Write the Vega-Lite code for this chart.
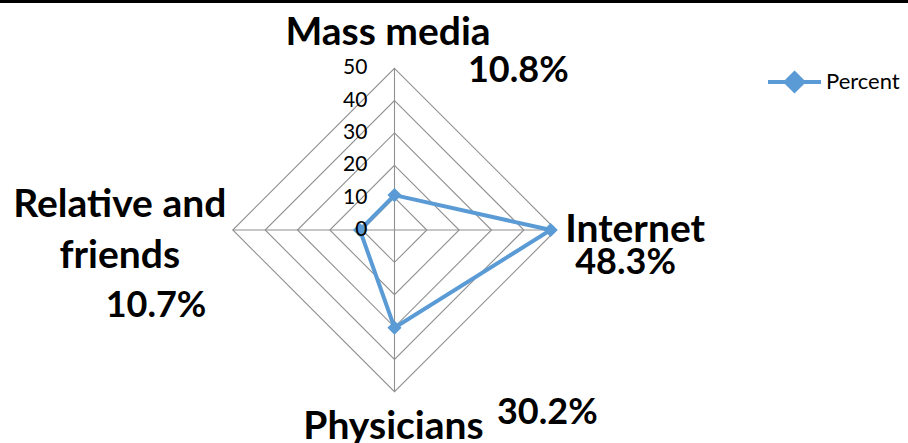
{
  "$schema": "https://vega.github.io/schema/vega-lite/v6.json",
  "width": 908,
  "height": 443,
  "autosize": {"type": "none"},
  "padding": 0,
  "background": "white",
  "config": {
    "view": {"stroke": null},
    "font": "Lato",
    "text": {"font": "Lato", "color": "#000000"}
  },
  "datasets": {
    "sources": [
      {"source": "Mass media", "order": 0, "percent": 10.8, "series": "Percent"},
      {"source": "Internet", "order": 1, "percent": 48.3, "series": "Percent"},
      {"source": "Physicians", "order": 2, "percent": 30.2, "series": "Percent"},
      {"source": "Relative and friends", "order": 3, "percent": 10.7, "series": "Percent"}
    ],
    "rings": [
      {"level": 10, "corners": [0, 1, 2, 3]},
      {"level": 20, "corners": [0, 1, 2, 3]},
      {"level": 30, "corners": [0, 1, 2, 3]},
      {"level": 40, "corners": [0, 1, 2, 3]},
      {"level": 50, "corners": [0, 1, 2, 3]}
    ],
    "ticks": [
      {"tick": 0}, {"tick": 10}, {"tick": 20}, {"tick": 30}, {"tick": 40}, {"tick": 50}
    ]
  },
  "layer": [
    {
      "data": {"name": "rings"},
      "transform": [
        {"flatten": ["corners"], "as": ["corner"]},
        {"calculate": "datum.corner * PI / 2", "as": "angle"},
        {"calculate": "datum.level * sin(datum.angle)", "as": "gx"},
        {"calculate": "datum.level * cos(datum.angle)", "as": "gy"}
      ],
      "mark": {"type": "line", "interpolate": "linear-closed", "color": "#909090", "strokeWidth": 1.1, "clip": false},
      "encoding": {
        "x": {"field": "gx", "type": "quantitative", "axis": null, "scale": {"domain": [-121.98, 158.78], "nice": false, "zero": false}},
        "y": {"field": "gy", "type": "quantitative", "axis": null, "scale": {"domain": [-65.86, 71.12], "nice": false, "zero": false}},
        "detail": {"field": "level", "type": "nominal"},
        "order": {"field": "corner", "type": "quantitative"}
      }
    },
    {
      "data": {"name": "sources"},
      "transform": [
        {"calculate": "datum.order * PI / 2", "as": "angle"},
        {"calculate": "0", "as": "hub"},
        {"calculate": "50 * sin(datum.angle)", "as": "rimX"},
        {"calculate": "50 * cos(datum.angle)", "as": "rimY"},
        {"calculate": "datum.percent * sin(datum.angle)", "as": "valX"},
        {"calculate": "datum.percent * cos(datum.angle)", "as": "valY"},
        {"calculate": "format(datum.percent, '.1f') + '%'", "as": "pctLabel"}
      ],
      "layer": [
        {
          "mark": {"type": "rule", "color": "#909090", "strokeWidth": 1.1, "clip": false},
          "encoding": {
            "x": {"field": "hub", "type": "quantitative", "axis": null, "scale": {"domain": [-121.98, 158.78], "nice": false, "zero": false}},
            "x2": {"field": "rimX"},
            "y": {"field": "hub", "type": "quantitative", "axis": null, "scale": {"domain": [-65.86, 71.12], "nice": false, "zero": false}},
            "y2": {"field": "rimY"}
          }
        },
        {
          "mark": {"type": "line", "interpolate": "linear-closed", "color": "#5B9BD5", "strokeWidth": 4, "clip": false},
          "encoding": {
            "x": {"field": "valX", "type": "quantitative", "axis": null, "scale": {"domain": [-121.98, 158.78], "nice": false, "zero": false}},
            "y": {"field": "valY", "type": "quantitative", "axis": null, "scale": {"domain": [-65.86, 71.12], "nice": false, "zero": false}},
            "order": {"field": "order", "type": "quantitative"}
          }
        },
        {
          "mark": {"type": "point", "shape": "diamond", "filled": true, "size": 200, "opacity": 1, "clip": false},
          "encoding": {
            "x": {"field": "valX", "type": "quantitative", "axis": null, "scale": {"domain": [-121.98, 158.78], "nice": false, "zero": false}},
            "y": {"field": "valY", "type": "quantitative", "axis": null, "scale": {"domain": [-65.86, 71.12], "nice": false, "zero": false}},
            "color": {
              "field": "series",
              "type": "nominal",
              "scale": {"range": ["#5B9BD5"]},
              "legend": {
                "title": null,
                "orient": "none",
                "legendX": 766,
                "legendY": 53.5,
                "padding": 0,
                "labelFont": "Lato",
                "labelFontSize": 22,
                "labelColor": "#000000",
                "labelOffset": 3,
                "symbolType": "M-1,0L1,0M0,-0.33L0.33,0L0,0.33L-0.33,0Z",
                "symbolSize": 2809,
                "symbolStrokeWidth": 4,
                "symbolFillColor": "#5B9BD5",
                "symbolStrokeColor": "#5B9BD5",
                "symbolOpacity": 1
              }
            }
          }
        },
        {
          "transform": [{"filter": "datum.source === 'Mass media'"}],
          "mark": {"type": "text", "align": "center", "baseline": "alphabetic", "dx": -6.5, "dy": -23.3, "fontSize": 39, "fontWeight": "bold", "clip": false},
          "encoding": {
            "x": {"field": "rimX", "type": "quantitative", "axis": null, "scale": {"domain": [-121.98, 158.78], "nice": false, "zero": false}},
            "y": {"field": "rimY", "type": "quantitative", "axis": null, "scale": {"domain": [-65.86, 71.12], "nice": false, "zero": false}},
            "text": {"field": "source", "type": "nominal"}
          }
        },
        {
          "transform": [{"filter": "datum.source === 'Mass media'"}],
          "mark": {"type": "text", "align": "left", "baseline": "alphabetic", "dx": 73.5, "dy": 13.7, "fontSize": 36, "fontWeight": "bold", "clip": false},
          "encoding": {
            "x": {"field": "rimX", "type": "quantitative", "axis": null, "scale": {"domain": [-121.98, 158.78], "nice": false, "zero": false}},
            "y": {"field": "rimY", "type": "quantitative", "axis": null, "scale": {"domain": [-65.86, 71.12], "nice": false, "zero": false}},
            "text": {"field": "pctLabel", "type": "nominal"}
          }
        },
        {
          "transform": [{"filter": "datum.source === 'Internet'"}],
          "mark": {"type": "text", "align": "left", "baseline": "alphabetic", "dx": 9, "dy": 12, "fontSize": 39, "fontWeight": "bold", "clip": false},
          "encoding": {
            "x": {"field": "rimX", "type": "quantitative", "axis": null, "scale": {"domain": [-121.98, 158.78], "nice": false, "zero": false}},
            "y": {"field": "rimY", "type": "quantitative", "axis": null, "scale": {"domain": [-65.86, 71.12], "nice": false, "zero": false}},
            "text": {"field": "source", "type": "nominal"}
          }
        },
        {
          "transform": [{"filter": "datum.source === 'Internet'"}],
          "mark": {"type": "text", "align": "left", "baseline": "alphabetic", "dx": 19, "dy": 44, "fontSize": 36, "fontWeight": "bold", "clip": false},
          "encoding": {
            "x": {"field": "rimX", "type": "quantitative", "axis": null, "scale": {"domain": [-121.98, 158.78], "nice": false, "zero": false}},
            "y": {"field": "rimY", "type": "quantitative", "axis": null, "scale": {"domain": [-65.86, 71.12], "nice": false, "zero": false}},
            "text": {"field": "pctLabel", "type": "nominal"}
          }
        },
        {
          "transform": [{"filter": "datum.source === 'Physicians'"}],
          "mark": {"type": "text", "align": "center", "baseline": "alphabetic", "dx": -1, "dy": 47, "fontSize": 39, "fontWeight": "bold", "clip": false},
          "encoding": {
            "x": {"field": "rimX", "type": "quantitative", "axis": null, "scale": {"domain": [-121.98, 158.78], "nice": false, "zero": false}},
            "y": {"field": "rimY", "type": "quantitative", "axis": null, "scale": {"domain": [-65.86, 71.12], "nice": false, "zero": false}},
            "text": {"field": "source", "type": "nominal"}
          }
        },
        {
          "transform": [{"filter": "datum.source === 'Physicians'"}],
          "mark": {"type": "text", "align": "left", "baseline": "alphabetic", "dx": 102.5, "dy": 32.3, "fontSize": 36, "fontWeight": "bold", "clip": false},
          "encoding": {
            "x": {"field": "rimX", "type": "quantitative", "axis": null, "scale": {"domain": [-121.98, 158.78], "nice": false, "zero": false}},
            "y": {"field": "rimY", "type": "quantitative", "axis": null, "scale": {"domain": [-65.86, 71.12], "nice": false, "zero": false}},
            "text": {"field": "pctLabel", "type": "nominal"}
          }
        },
        {
          "transform": [
            {"filter": "datum.source === 'Relative and friends'"},
            {"calculate": "split(replace(datum.source, ' friends', '|friends'), '|')", "as": "lines"}
          ],
          "mark": {"type": "text", "align": "center", "baseline": "alphabetic", "dx": -113, "dy": -13, "lineHeight": 51, "fontSize": 39, "fontWeight": "bold", "clip": false},
          "encoding": {
            "x": {"field": "rimX", "type": "quantitative", "axis": null, "scale": {"domain": [-121.98, 158.78], "nice": false, "zero": false}},
            "y": {"field": "rimY", "type": "quantitative", "axis": null, "scale": {"domain": [-65.86, 71.12], "nice": false, "zero": false}},
            "text": {"field": "lines", "type": "nominal"}
          }
        },
        {
          "transform": [{"filter": "datum.source === 'Relative and friends'"}],
          "mark": {"type": "text", "align": "center", "baseline": "alphabetic", "dx": -76.8, "dy": 86.7, "fontSize": 36, "fontWeight": "bold", "clip": false},
          "encoding": {
            "x": {"field": "rimX", "type": "quantitative", "axis": null, "scale": {"domain": [-121.98, 158.78], "nice": false, "zero": false}},
            "y": {"field": "rimY", "type": "quantitative", "axis": null, "scale": {"domain": [-65.86, 71.12], "nice": false, "zero": false}},
            "text": {"field": "pctLabel", "type": "nominal"}
          }
        }
      ]
    },
    {
      "data": {"name": "ticks"},
      "transform": [{"calculate": "0", "as": "spoke"}],
      "mark": {"type": "text", "align": "right", "baseline": "middle", "dx": -27, "fontSize": 21, "clip": false},
      "encoding": {
        "x": {"field": "spoke", "type": "quantitative", "axis": null, "scale": {"domain": [-121.98, 158.78], "nice": false, "zero": false}},
        "y": {"field": "tick", "type": "quantitative", "axis": null, "scale": {"domain": [-65.86, 71.12], "nice": false, "zero": false}},
        "text": {"field": "tick", "type": "quantitative"}
      }
    },
    {
      "data": {"values": [{"edge": "top"}]},
      "mark": {"type": "rule", "color": "#000000", "strokeWidth": 3, "clip": false},
      "encoding": {
        "y": {"datum": 70.66, "type": "quantitative", "axis": null, "scale": {"domain": [-65.86, 71.12], "nice": false, "zero": false}}
      }
    }
  ]
}
